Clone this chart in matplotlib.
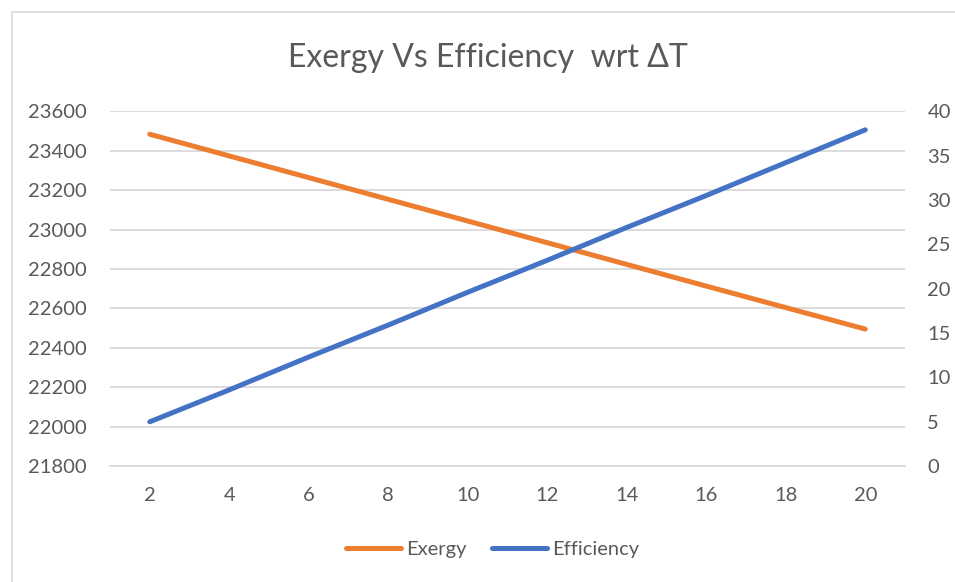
import matplotlib.pyplot as plt
from matplotlib.patches import Rectangle

# data
delta_t = [2, 4, 6, 8, 10, 12, 14, 16, 18, 20]
exergy = [23483, 23373, 23263, 23153, 23043, 22933, 22823, 22713, 22604, 22495]
efficiency = [5.0, 8.6, 12.3, 15.9, 19.6, 23.2, 26.9, 30.5, 34.2, 37.9]

left_ticks = [21800, 22000, 22200, 22400, 22600, 22800, 23000, 23200, 23400, 23600]
right_ticks = [0, 5, 10, 15, 20, 25, 30, 35, 40]

plt.rcParams['font.family'] = ['Lato', 'DejaVu Sans']
text_col = '#595959'
grid_col = '#d9d9d9'
fs = 14.5

fig = plt.figure(figsize=(9.55, 5.82), dpi=100)
ax = fig.add_axes([0.1152, 0.199, 0.8325, 0.610])
ax2 = ax.twinx()

# outer chart border (slightly cropped at right and bottom)
fig.patches.append(Rectangle((12 / 955, -0.05), 1.1, 1 - 12 / 582 + 0.05,
                             transform=fig.transFigure, fill=False,
                             edgecolor=grid_col, linewidth=1.2))

x = list(range(len(delta_t)))
l1, = ax.plot(x, exergy, color='#ED7D31', linewidth=3.6,
              solid_capstyle='round', label='Exergy', zorder=3)
l2, = ax2.plot(x, efficiency, color='#4472C4', linewidth=3.6,
               solid_capstyle='round', label='Efficiency', zorder=3)

ax.set_xlim(-0.5, len(delta_t) - 0.5)
ax.set_ylim(21800, 23600)
ax2.set_ylim(0, 40)
ax.set_yticks(left_ticks)
ax2.set_yticks(right_ticks)
ax.set_xticks(x)
ax.set_xticklabels([str(v) for v in delta_t])

ax.grid(axis='y', color=grid_col, linewidth=1.3)
ax.set_axisbelow(True)
for a in (ax, ax2):
    for s in a.spines.values():
        s.set_visible(False)
    a.tick_params(length=0, labelsize=fs, labelcolor=text_col)
ax.tick_params(axis='y', pad=17)
ax.tick_params(axis='x', pad=15)
ax2.tick_params(axis='y', pad=16)
ax.spines['bottom'].set_visible(True)
ax.spines['bottom'].set_color(grid_col)
ax.spines['bottom'].set_linewidth(1.3)

fig.text(0.511, 1 - 67 / 582, 'Exergy Vs Efficiency  wrt \u0394T', ha='center',
         va='baseline', fontsize=23, color=text_col)

fig.legend(handles=[l1, l2], loc='center', bbox_to_anchor=(0.516, 0.056), ncol=2,
           frameon=False, fontsize=fs, labelcolor=text_col, handlelength=2.73,
           handletextpad=0.25, columnspacing=1.24)

fig.savefig('out.png', dpi=100, facecolor='white')
